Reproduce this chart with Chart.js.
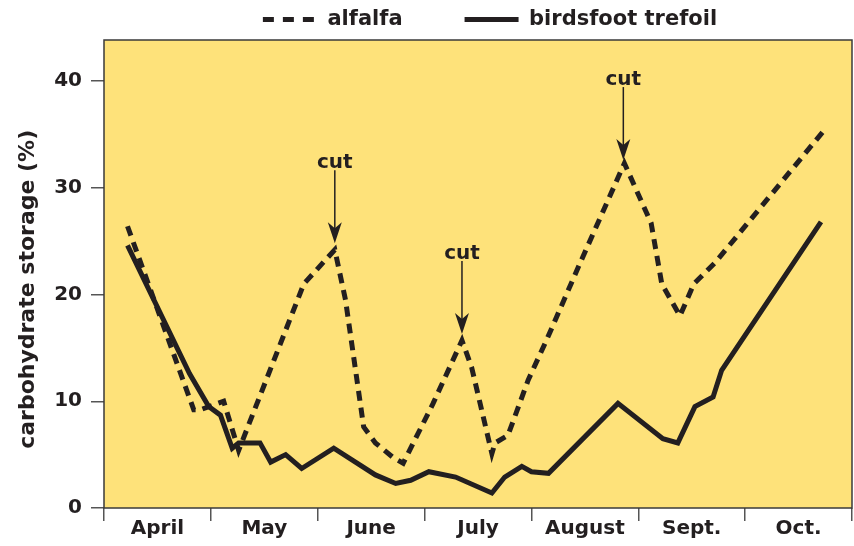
<!DOCTYPE html>
<html>
<head>
<meta charset="utf-8">
<script src="https://cdn.jsdelivr.net/npm/chart.js@4"></script>
<style>
  html, body { margin: 0; padding: 0; background: #fff; }
  #wrap { width: 854px; height: 546px; }
</style>
</head>
<body>
<div id="wrap"><canvas id="storageChart"></canvas></div>
<script>
// months along the x axis (one unit per month, April starts at 0)
const months = ['April', 'May', 'June', 'July', 'August', 'Sept.', 'Oct.'];
const yTicks = [0, 10, 20, 30, 40];

// alfalfa (dashed)
const alfalfaX = [0.22, 0.84, 0.90, 1.12, 1.26, 1.87, 2.16, 2.26, 2.43, 2.54, 2.71, 2.80, 3.08, 3.35, 3.44, 3.63, 3.66, 3.78, 3.97, 4.14, 4.44, 4.87, 5.12, 5.22, 5.39, 5.52, 5.72, 6.74];
const alfalfaY = [26.4, 9.2, 9.2, 10.0, 5.4, 21.0, 24.2, 19.5, 7.6, 6.1, 4.7, 4.2, 9.8, 15.7, 13.2, 5.1, 6.1, 6.8, 12.0, 15.7, 22.6, 32.3, 26.7, 21.0, 18.0, 21.0, 23.0, 35.4];

// birdsfoot trefoil (solid)
const trefoilX = [0.22, 0.80, 0.98, 1.09, 1.20, 1.26, 1.46, 1.56, 1.70, 1.85, 2.15, 2.54, 2.73, 2.87, 3.04, 3.29, 3.63, 3.75, 3.91, 4.00, 4.16, 4.81, 5.23, 5.37, 5.53, 5.70, 5.78, 6.71];
const trefoilY = [24.6, 12.6, 9.5, 8.7, 5.6, 6.1, 6.1, 4.3, 5.0, 3.7, 5.6, 3.1, 2.3, 2.6, 3.4, 2.9, 1.4, 2.9, 3.9, 3.4, 3.25, 9.8, 6.5, 6.1, 9.5, 10.4, 12.9, 26.8];

// "cut" arrows: month position and value at the arrow tip
const cutX = [2.16, 3.35, 4.86];
const cutY = [24.8, 16.3, 32.6];

const ink = '#231f20';
const font = "'DejaVu Sans', sans-serif";

function toPoints(xs, ys) {
    return xs.map((x, i) => ({ x: x, y: ys[i] }));
}

// yellow plot area and its frame
const plotBox = {
    id: 'plotBox',
    beforeDatasetsDraw(chart) {
        const { ctx, chartArea: a } = chart;
        ctx.save();
        ctx.fillStyle = '#fee27a';
        ctx.fillRect(a.left, a.top, a.right - a.left, a.bottom - a.top);
        ctx.restore();
    },
    afterDatasetsDraw(chart) {
        const { ctx, chartArea: a } = chart;
        ctx.save();
        ctx.strokeStyle = '#3a3a3a';
        ctx.lineWidth = 1.5;
        ctx.strokeRect(a.left, a.top, a.right - a.left, a.bottom - a.top);
        ctx.restore();
    }
};

// arrows with the "cut" label above them
const cutArrows = {
    id: 'cutArrows',
    afterDatasetsDraw(chart) {
        const { ctx, scales } = chart;
        ctx.save();
        ctx.strokeStyle = ink;
        ctx.fillStyle = ink;
        ctx.lineWidth = 1.5;
        ctx.font = 'bold 20px ' + font;
        ctx.textAlign = 'center';
        ctx.textBaseline = 'alphabetic';
        cutX.forEach((cx, i) => {
            const px = scales.x.getPixelForValue(cx);
            const tip = scales.y.getPixelForValue(cutY[i]);
            ctx.beginPath();
            ctx.moveTo(px, tip - 73);
            ctx.lineTo(px, tip - 12);
            ctx.stroke();
            ctx.beginPath();
            ctx.moveTo(px, tip);
            ctx.lineTo(px - 7, tip - 21);
            ctx.lineTo(px, tip - 15);
            ctx.lineTo(px + 7, tip - 21);
            ctx.closePath();
            ctx.fill();
            ctx.fillText('cut', px, tip - 75);
        });
        ctx.restore();
    }
};

// push the legend a little to the right like in the original
const legendShift = {
    id: 'legendShift',
    afterLayout(chart) {
        chart.legend.left += 12;
        chart.legend.right += 12;
    }
};

const ctx = document.getElementById('storageChart').getContext('2d');
new Chart(ctx, {
    type: 'line',
    data: {
        datasets: [{
            label: 'alfalfa',
            data: toPoints(alfalfaX, alfalfaY),
            borderColor: ink,
            backgroundColor: ink,
            borderWidth: 5,
            borderDash: [10, 7],
            borderCapStyle: 'butt',
            pointRadius: 0,
            tension: 0
        }, {
            label: 'birdsfoot trefoil',
            data: toPoints(trefoilX, trefoilY),
            borderColor: ink,
            backgroundColor: ink,
            borderWidth: 5,
            borderJoinStyle: 'miter',
            pointRadius: 0,
            tension: 0
        }]
    },
    options: {
        responsive: true,
        maintainAspectRatio: false,
        animation: false,
        // negative top padding: the legend padding also sets the gap between its items
        layout: { padding: { top: -53, right: 2, bottom: 0, left: 0 } },
        plugins: {
            legend: {
                position: 'top',
                fullSize: false,
                labels: {
                    usePointStyle: true,
                    pointStyle: 'line',
                    pointStyleWidth: 54,
                    boxHeight: 20,
                    padding: 62,
                    color: ink,
                    font: { family: font, size: 21, weight: 'bold' },
                    generateLabels(chart) {
                        const items = Chart.defaults.plugins.legend.labels.generateLabels(chart);
                        items.forEach((it, i) => {
                            it.lineDash = i === 0 ? [11, 9] : [];
                            it.lineWidth = 5;
                            it.strokeStyle = ink;
                        });
                        return items;
                    }
                }
            },
            tooltip: { enabled: false }
        },
        scales: {
            x: {
                type: 'linear',
                min: 0,
                max: 7,
                afterBuildTicks(axis) {
                    const t = [];
                    for (let i = 0; i <= 14; i++) t.push({ value: i / 2 });
                    axis.ticks = t;
                },
                afterFit(axis) { axis.height = 38; },
                grid: {
                    drawOnChartArea: false,
                    tickLength: 13,
                    lineWidth: 1.5,
                    color: (c) => (c.tick && Number.isInteger(c.tick.value)) ? '#555' : 'rgba(0,0,0,0)'
                },
                border: { display: false },
                ticks: {
                    autoSkip: false,
                    maxRotation: 0,
                    padding: -4,
                    color: ink,
                    font: { family: font, size: 20, weight: 'bold' },
                    callback: (v) => Number.isInteger(v) ? '' : months[Math.floor(v)]
                }
            },
            y: {
                min: 0,
                max: 43.85,
                afterBuildTicks(axis) {
                    axis.ticks = yTicks.map(v => ({ value: v }));
                },
                afterFit(axis) { axis.width = 104; },
                grid: {
                    drawOnChartArea: false,
                    tickLength: 13,
                    lineWidth: 1.5,
                    color: '#555'
                },
                border: { display: false },
                ticks: {
                    padding: 9,
                    color: ink,
                    font: { family: font, size: 20, weight: 'bold' }
                },
                title: {
                    display: true,
                    // trailing spaces nudge the centred title down a bit
                    text: 'carbohydrate storage (%)    ',
                    color: ink,
                    padding: { top: 15, bottom: 0 },
                    font: { family: font, size: 22, weight: 'bold' }
                }
            }
        }
    },
    plugins: [plotBox, cutArrows, legendShift]
});
</script>
</body>
</html>
